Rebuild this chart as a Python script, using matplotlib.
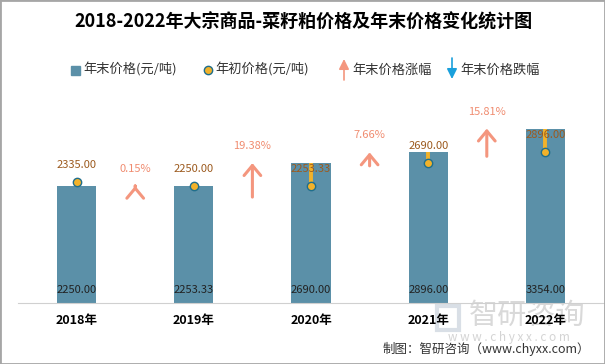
import numpy as np
import matplotlib
matplotlib.use("Agg")
import matplotlib.pyplot as plt
from matplotlib.patches import FancyArrowPatch, Rectangle
from matplotlib.lines import Line2D

plt.rcParams["font.family"] = ["Noto Sans CJK SC", "DejaVu Sans"]

YEARS = ["2018年", "2019年", "2020年", "2021年", "2022年"]
END_PRICE = [2250.00, 2253.33, 2690.00, 2896.00, 3354.00]    # 年末价格
START_PRICE = [2335.00, 2250.00, 2253.33, 2690.00, 2896.00]  # 年初价格
CHANGE_PCT = [0.15, 19.38, 7.66, 15.81]                      # 年末价格涨幅

BAR = "#5b90a8"
DOT = "#f2b22a"
DOT_EDGE = "#1f6e8c"
UP = "#f4967e"
DOWN = "#1aa0dc"
ARROW_SCALE = 33.7  # data units per percent

W, H = 605, 364


def fx(x):
    return x / W


def fy(y):
    return 1 - y / H


fig = plt.figure(figsize=(W / 100, H / 100), dpi=100)
ax = fig.add_axes([fx(18), fy(303), 586 / W, 208 / H])
ax.patch.set_alpha(0)

x = np.arange(len(YEARS))
ax.bar(x, END_PRICE, width=0.335, color=BAR, zorder=2)
ax.vlines(x, START_PRICE, END_PRICE, color=DOT, lw=2.8, zorder=3)
ax.scatter(x, START_PRICE, s=36, color=DOT, edgecolor=DOT_EDGE, linewidth=1, zorder=4)

for xi, v in zip(x, START_PRICE):
    ax.annotate(f"{v:.2f}", (xi, v), xytext=(0, 12.2), textcoords="offset points",
                ha="center", va="center", fontsize=8, color="#9c5a1e", zorder=5)
for xi, v in zip(x, END_PRICE):
    ax.annotate(f"{v:.2f}", (xi, 0), xytext=(0, 9.4), textcoords="offset points",
                ha="center", va="center", fontsize=8, color="#222222", zorder=5)

for i, pct in enumerate(CHANGE_PCT):
    xm = i + 0.5
    tip = END_PRICE[i + 1]
    base = tip - abs(pct) * ARROW_SCALE
    color = UP if pct >= 0 else DOWN
    if pct < 0:
        base, tip = tip, base
    arr = FancyArrowPatch((xm, base), (xm, tip), arrowstyle="->,head_length=7.2,head_width=6",
                          mutation_scale=1, lw=2.2, color=color, shrinkA=0, shrinkB=0, zorder=3)
    ax.add_patch(arr)
    ax.annotate(f"{pct:.2f}%", (xm, tip), xytext=(0, 12.2), textcoords="offset points",
                ha="center", va="center", fontsize=8, color="#f08c70")

ax.set_xlim(-0.5, len(YEARS) - 0.5)
ax.set_ylim(0, 4000)
ax.set_yticks([])
ax.set_xticks(x)
ax.set_xticklabels(YEARS, fontsize=9, fontweight="bold")
ax.tick_params(axis="x", length=0, pad=8)
for s in ["top", "right", "left"]:
    ax.spines[s].set_visible(False)
ax.spines["bottom"].set_color("#d0d0d0")

fig.text(fx(303), fy(22), "2018-2022年大宗商品-菜籽粕价格及年末价格变化统计图",
         ha="center", va="center", fontsize=13, fontweight="bold")

# legend
ly = fy(70)
fig.patches.append(Rectangle((fx(71), fy(75)), 9 / W, 9 / H, transform=fig.transFigure,
                             color=BAR))
fig.text(fx(83), ly, "年末价格(元/吨)", ha="left", va="center", fontsize=9.5, color="#333333")
fig.add_artist(Line2D([fx(208)], [ly], marker="o", markersize=6, markerfacecolor=DOT,
                      markeredgecolor=DOT_EDGE, markeredgewidth=1, transform=fig.transFigure))
fig.text(fx(215), ly, "年初价格(元/吨)", ha="left", va="center", fontsize=9.5, color="#333333")
fig.patches.append(FancyArrowPatch((fx(344), fy(80)), (fx(344), fy(59)), transform=fig.transFigure,
                                   arrowstyle="-|>,head_length=6,head_width=3", mutation_scale=1,
                                   lw=1.2, color=UP, shrinkA=0, shrinkB=0))
fig.text(fx(352), ly, "年末价格涨幅", ha="left", va="center", fontsize=9.5, color="#333333")
fig.patches.append(FancyArrowPatch((fx(452), fy(58)), (fx(452), fy(79)), transform=fig.transFigure,
                                   arrowstyle="-|>,head_length=6,head_width=3", mutation_scale=1,
                                   lw=1.2, color=DOWN, shrinkA=0, shrinkB=0))
fig.text(fx(460), ly, "年末价格跌幅", ha="left", va="center", fontsize=9.5, color="#333333")

# watermark
fig.text(fx(527), fy(316), "智研咨询", ha="center", va="center", fontsize=21,
         color="#d9d9d9", zorder=-1)
fig.text(fx(509), fy(337), "w w w . c h y x x . c o m", ha="center", va="center",
         fontsize=8.5, color="#d4d4d4", zorder=-1)
fig.patches.append(Rectangle((fx(437), fy(330)), 22 / W, 24 / H, transform=fig.transFigure,
                             fill=False, edgecolor="#d9dfe6", lw=3, zorder=-1))

fig.text(fx(590), fy(349), "制图：智研咨询（www.chyxx.com）", ha="right", va="center",
         fontsize=9, color="#333333")

fig.patches.append(Rectangle((0, 0), 1, 1, transform=fig.transFigure, fill=False,
                             edgecolor="#a6a6a6", lw=2))

fig.savefig("out.png", dpi=100)
